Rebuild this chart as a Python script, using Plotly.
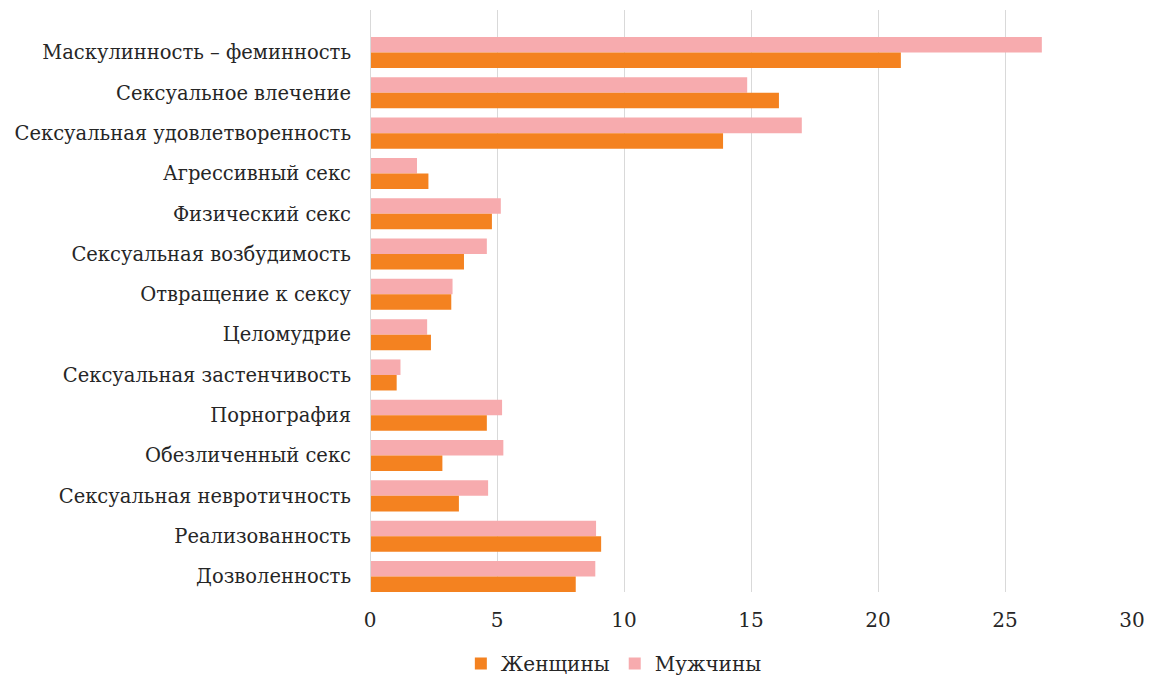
import plotly.graph_objects as go

categories = [
    "Маскулинность – феминность",
    "Сексуальное влечение",
    "Сексуальная удовлетворенность",
    "Агрессивный секс",
    "Физический секс",
    "Сексуальная возбудимость",
    "Отвращение к сексу",
    "Целомудрие",
    "Сексуальная застенчивость",
    "Порнография",
    "Обезличенный секс",
    "Сексуальная невротичность",
    "Реализованность",
    "Дозволенность",
]
women = [20.9, 16.1, 13.9, 2.3, 4.8, 3.7, 3.2, 2.4, 1.05, 4.6, 2.85, 3.5, 9.1, 8.1]
men = [26.45, 14.85, 17.0, 1.85, 5.15, 4.6, 3.25, 2.25, 1.2, 5.2, 5.25, 4.65, 8.9, 8.87]

x_ticks = [0, 5, 10, 15, 20, 25, 30]

FONT = "DejaVu Serif"

fig = go.Figure()
fig.add_trace(go.Bar(y=categories, x=men, orientation="h", name="Мужчины",
                     marker=dict(color="#F7ABAE", line=dict(width=0)), legendrank=2))
fig.add_trace(go.Bar(y=categories, x=women, orientation="h", name="Женщины",
                     marker=dict(color="#F48220", line=dict(width=0)), legendrank=1))

fig.update_layout(
    width=1137, height=675,
    margin=dict(l=362, r=13, t=2, b=91, autoexpand=False),
    paper_bgcolor="white", plot_bgcolor="white",
    barmode="group", bargap=0.23, bargroupgap=0,
    font=dict(family=FONT, size=20, color="#262626"),
    showlegend=True,
    legend=dict(orientation="h", x=0.32, xanchor="center", y=-91 / 582, yanchor="bottom",
                font=dict(family=FONT, size=20, color="#262626"),
                itemsizing="constant", traceorder="normal", itemwidth=30),
    xaxis=dict(range=[0, 30], tickvals=x_ticks, showgrid=True, gridcolor="#D9D9D9",
               gridwidth=1, zeroline=False, showline=False, ticks="", automargin=False,
               tickfont=dict(family=FONT, size=20, color="#262626"), ticklabelstandoff=14),
    yaxis=dict(categoryorder="array", categoryarray=categories, range=[13.385, -1.055],
               showgrid=False, zeroline=False, showline=False, ticks="", automargin=False,
               tickfont=dict(family=FONT, size=19.5, color="#262626"), ticklabelstandoff=18),
    shapes=[dict(type="line", xref="x", yref="paper", x0=0, x1=0, y0=0, y1=1,
                 line=dict(color="#D9D9D9", width=2), layer="above")],
)

fig.write_html("out.html")
